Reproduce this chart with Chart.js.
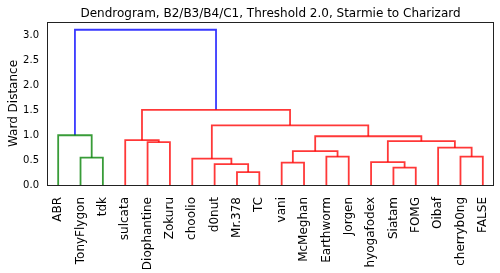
<!DOCTYPE html>
<html>
<head>
<meta charset="utf-8">
<script src="https://cdn.jsdelivr.net/npm/chart.js@4"></script>
<style>
  html, body { margin: 0; padding: 0; background: #fff; }
  #wrap { width: 500px; height: 273px; }
</style>
</head>
<body>
<div id="wrap"><canvas id="dendro"></canvas></div>
<script>
// leaves, left to right
var leaves = ['ABR', 'TonyFlygon', 'tdk', 'sulcata', 'Diophantine', 'Zokuru', 'choolio', 'd0nut', 'Mr.378', 'TC',
              'vani', 'McMeghan', 'Earthworm', 'Jorgen', 'hyogafodex', 'Siatam', 'FOMG', 'Oibaf', 'cherryb0ng', 'FALSE'];

// merges: ids < 20 are leaves, 20+ are previous merges (in order)
var mergeLeft   = [1, 0, 4, 3, 8, 7, 6, 10, 12, 27, 15, 14, 18, 17, 31, 29, 26, 23, 21];
var mergeRight  = [2, 20, 5, 22, 9, 24, 25, 11, 13, 28, 16, 30, 19, 32, 33, 34, 35, 36, 37];
var mergeHeight = [0.55, 1.00, 0.86, 0.90, 0.26, 0.42, 0.53, 0.45, 0.57, 0.68, 0.35, 0.46, 0.57, 0.75, 0.88, 0.98, 1.20, 1.51, 3.12];

var threshold = 2.0;
var clusterColors = ['rgba(0,128,0,0.78)', 'rgba(255,0,0,0.78)', 'rgba(0,191,191,0.78)'];
var aboveColor = 'rgba(0,0,255,0.78)';

var yTicks = [0, 0.5, 1.0, 1.5, 2.0, 2.5, 3.0];
var titleText = 'Dendrogram, B2/B3/B4/C1, Threshold 2.0, Starmie to Charizard';

var n = leaves.length;

function nodeX(id) {
  if (id < n) return 5 + 10 * id;
  var k = id - n;
  return (nodeX(mergeLeft[k]) + nodeX(mergeRight[k])) / 2;
}

function nodeH(id) {
  return id < n ? 0 : mergeHeight[id - n];
}

// colour each link like scipy: below threshold by cluster, above in one colour
var linkColor = [];
var colorIdx = 0;
function paint(id, color) {
  if (id < n) return;
  var k = id - n;
  var c = color;
  if (!c && mergeHeight[k] < threshold) {
    c = clusterColors[colorIdx % clusterColors.length];
    colorIdx++;
  }
  linkColor[k] = c || aboveColor;
  paint(mergeLeft[k], c);
  paint(mergeRight[k], c);
}
paint(n + mergeHeight.length - 1, null);

var datasets = [];
for (var k = 0; k < mergeHeight.length; k++) {
  var a = mergeLeft[k], b = mergeRight[k];
  datasets.push({
    data: [
      {x: nodeX(a), y: nodeH(a)},
      {x: nodeX(a), y: mergeHeight[k]},
      {x: nodeX(b), y: mergeHeight[k]},
      {x: nodeX(b), y: nodeH(b)}
    ],
    showLine: true,
    borderColor: linkColor[k],
    borderWidth: 1.8,
    pointRadius: 0,
    fill: false
  });
}

// frame round the axes + title centred over the plot area (like matplotlib)
var frame = {
  id: 'frame',
  afterDraw: function(chart) {
    var a = chart.chartArea, ctx = chart.ctx;
    ctx.save();
    ctx.strokeStyle = '#222';
    ctx.lineWidth = 1;
    ctx.strokeRect(Math.round(a.left) + 0.5, Math.round(a.top) + 0.5,
                   Math.round(a.right - a.left) - 1, Math.round(a.bottom - a.top));
    ctx.fillStyle = '#000';
    ctx.font = '12px "DejaVu Sans"';
    ctx.textAlign = 'center';
    ctx.textBaseline = 'alphabetic';
    ctx.fillText(titleText, (a.left + a.right) / 2, a.top - 5);
    ctx.restore();
  }
};

var yMax = mergeHeight[mergeHeight.length - 1] * 1.05;

new Chart(document.getElementById('dendro'), {
  type: 'scatter',
  data: { datasets: datasets },
  plugins: [frame],
  options: {
    responsive: true,
    maintainAspectRatio: false,
    animation: false,
    layout: { padding: { top: 22, right: 6, bottom: 0, left: 0 } },
    plugins: {
      legend: { display: false },
      tooltip: { enabled: false },
      title: { display: false }
    },
    scales: {
      x: {
        type: 'linear',
        min: 0,
        max: 10 * n,
        grid: { display: false, drawTicks: false },
        border: { display: false },
        afterBuildTicks: function(scale) {
          scale.ticks = leaves.map(function(_, i) { return { value: 5 + 10 * i }; });
        },
        afterFit: function(scale) {
          scale.height = 88;
          scale.paddingLeft = 0;
          scale.paddingRight = 0;
        },
        ticks: {
          autoSkip: false,
          minRotation: 90,
          maxRotation: 90,
          padding: 12,
          color: '#000',
          font: { family: 'DejaVu Sans', size: 12 },
          callback: function(v, i) { return leaves[i]; }
        }
      },
      y: {
        min: 0,
        max: yMax,
        grid: { display: false, drawTicks: false },
        border: { display: false },
        afterBuildTicks: function(scale) {
          scale.ticks = yTicks.map(function(v) { return { value: v }; });
        },
        afterFit: function(scale) {
          scale.width = 47;
          scale.paddingTop = 0;
          scale.paddingBottom = 0;
        },
        ticks: {
          padding: 8,
          color: '#000',
          font: { family: 'DejaVu Sans', size: 10 },
          callback: function(v) { return v.toFixed(1); }
        },
        title: {
          display: true,
          text: 'Ward Distance',
          color: '#000',
          font: { family: 'DejaVu Sans', size: 12 },
          padding: { top: 7, bottom: 0 }
        }
      }
    }
  }
});
</script>
</body>
</html>
